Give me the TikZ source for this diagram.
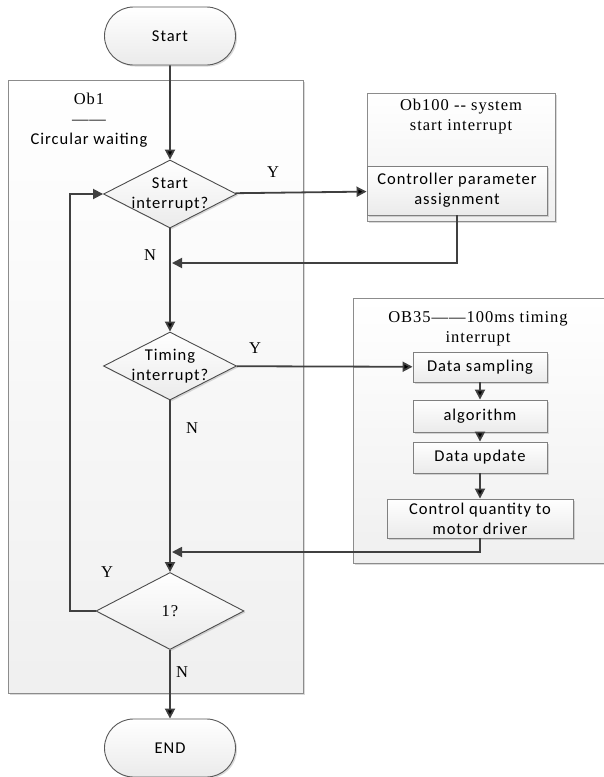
\documentclass[tikz,border=0pt]{standalone}
\usepackage{fontspec}
\setmainfont{Liberation Serif}[LetterSpace=6]
\setsansfont{Carlito}[LetterSpace=6]
\usetikzlibrary{arrows.meta,shapes.geometric,shapes.misc,shadows}

\begin{document}
\begin{tikzpicture}[x=1pt,y=-1pt,
    every node/.style={inner sep=2pt,font=\sffamily\fontsize{16.5}{20}\selectfont},
    lbl/.style={font=\rmfamily\fontsize{16.5}{20}\selectfont},
    group/.style={draw=black!45,line width=0.9pt,top color=white,bottom color=black!6,
      drop shadow={shadow xshift=1.5pt,shadow yshift=-1.5pt,opacity=0.3}},
    box/.style={draw=black!50,line width=0.9pt,top color=white,bottom color=black!8,align=center,
      drop shadow={shadow xshift=1.5pt,shadow yshift=-1.5pt,opacity=0.3}},
    terminal/.style={rounded rectangle,draw=black!65,line width=0.9pt,top color=white,bottom color=black!8,
      minimum width=135,minimum height=58,
      drop shadow={shadow xshift=1.5pt,shadow yshift=-1.5pt,opacity=0.3}},
    decision/.style={diamond,draw=black!70,line width=0.9pt,top color=white,bottom color=black!8,inner sep=0pt,
      drop shadow={shadow xshift=1.5pt,shadow yshift=-1.5pt,opacity=0.3}},
    flow/.style={draw=black!75,line width=1.8pt,-{Triangle[length=10pt,width=10pt]}}]
    \useasboundingbox (0,0) rectangle (603,777);
    \node[terminal] (start) at (170,36) {Start};
    \node[group,minimum width=295,minimum height=613] (ob1) at (155.5,386.5) {};
    \node[align=center] (ob1-title) at (89,120) {{\rmfamily Ob1}\\{\rmfamily ——}\\Circular waiting};
    \node[decision,minimum width=133,minimum height=68,
      label={[align=center]center:Start\\interrupt?}] (start-int) at (170,194) {};
    \node[group,minimum width=188,minimum height=128] (ob100) at (461,157) {};
    \node[lbl,align=center] (ob100-title) at (461,117) {Ob100 -{}- system\\start interrupt};
    \node[box,minimum width=180,minimum height=49] (assign) at (457,190.5) {Controller parameter\\assignment};
    \node[decision,minimum width=133,minimum height=68,
      label={[align=center]center:Timing\\interrupt?}] (timing-int) at (170,366) {};
    \node[group,minimum width=262,minimum height=265] (ob35) at (484,430.5) {};
    \node[lbl,align=center] (ob35-title) at (478,329) {OB35——100ms timing\\interrupt};
    \node[box,minimum width=134,minimum height=30] (sampling) at (480,367) {Data sampling};
    \node[box,minimum width=134,minimum height=32] (algorithm) at (480,416) {algorithm};
    \node[box,minimum width=134,minimum height=31] (update) at (480,457.5) {Data update};
    \node[box,minimum width=186,minimum height=39] (output) at (480,518.5) {Control quantity to\\motor driver};
    \node[decision,minimum width=148,minimum height=77,
      label={[lbl]center:1?}] (loop-test) at (170,611) {};
    \node[terminal] (end) at (170,748) {END};
    \node[lbl] (y1) at (273,172) {Y};
    \node[lbl] (n1) at (150,255) {N};
    \node[lbl] (y2) at (255,348) {Y};
    \node[lbl] (n2) at (192,428) {N};
    \node[lbl] (y3) at (107,572) {Y};
    \node[lbl] (n3) at (182,672) {N};
    \coordinate (back1) at (172,263);
    \coordinate (back2) at (172,552);
    \coordinate (loop) at (70,611);
    \path[flow]
    (start) edge (start-int)
    (start-int) edge (assign)
    (start-int) edge (timing-int)
    (timing-int) edge (sampling)
    (sampling) edge (algorithm)
    (algorithm) edge (update)
    (update) edge (output)
    (timing-int) edge (loop-test)
    (loop-test) edge (end);
    \draw[flow] (assign.south) |- (back1);
    \draw[flow] (output.south) |- (back2);
    \draw[flow] (loop-test.west) -- (loop) |- (start-int.west);
  \end{tikzpicture}
\end{document}
